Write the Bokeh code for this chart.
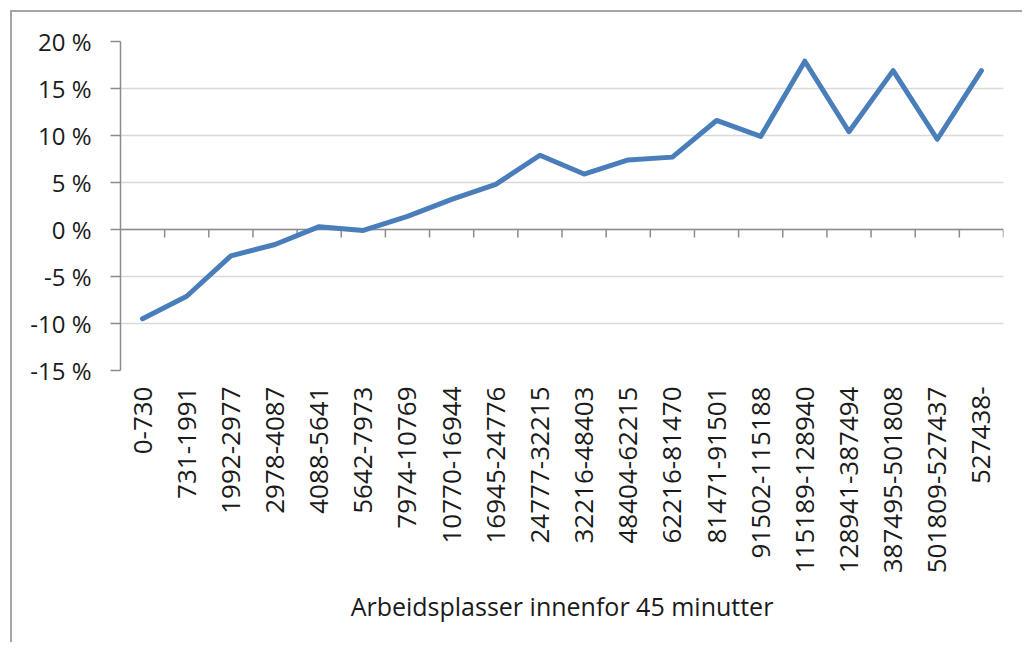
import math
from bokeh.plotting import figure
from bokeh.models import (Range1d, FixedTicker, PrintfTickFormatter, Span)
from bokeh.embed import file_html
from bokeh.resources import INLINE

categories = ["0-730", "731-1991", "1992-2977", "2978-4087", "4088-5641",
              "5642-7973", "7974-10769", "10770-16944", "16945-24776",
              "24777-32215", "32216-48403", "48404-62215", "62216-81470",
              "81471-91501", "91502-115188", "115189-128940", "128941-387494",
              "387495-501808", "501809-527437", "527438-"]
values = [-9.5, -7.1, -2.8, -1.6, 0.3, -0.1, 1.4, 3.2, 4.8, 7.9,
          5.9, 7.4, 7.7, 11.6, 9.9, 17.9, 10.4, 16.9, 9.6, 16.9]
y_ticks = [-15, -10, -5, 0, 5, 10, 15, 20]
x_title = "Arbeidsplasser innenfor 45 minutter"

FONT = "Open Sans"
TXT = "#1a1a1a"
AXC = "#8c8c8c"

n = len(categories)
centers = [i + 0.5 for i in range(n)]
bounds = [i + 1 for i in range(n)]

p = figure(x_range=Range1d(0, n), y_range=Range1d(-15, 20),
           frame_width=883, frame_height=329,
           min_border_left=108, min_border_top=29, min_border_right=19,
           min_border_bottom=272,
           output_backend="svg", toolbar_location=None,
           background_fill_color="white", border_fill_color="white")
p.outline_line_color = None
p.styles = {"margin-left": "10px", "margin-top": "10px",
            "border-left": "2px solid #a6a6a6", "border-top": "2px solid #a6a6a6"}

# label axis (categories at centers)
xa = p.xaxis[0]
xa.ticker = FixedTicker(ticks=centers)
xa.major_label_overrides = {c: lab for c, lab in zip(centers, categories)}
xa.axis_line_color = None
xa.major_tick_line_color = None
xa.minor_tick_line_color = None
xa.major_tick_out = 0
xa.major_tick_in = 0
xa.major_label_orientation = math.pi / 2
xa.major_label_text_font = FONT
xa.major_label_text_font_size = "26px"
xa.major_label_text_color = TXT
xa.major_label_standoff = 16
xa.axis_label = x_title
xa.axis_label_text_font = FONT
xa.axis_label_text_font_size = "25px"
xa.axis_label_text_font_style = "normal"
xa.axis_label_text_color = TXT
xa.axis_label_standoff = 13

ya = p.yaxis[0]
ya.ticker = FixedTicker(ticks=y_ticks)
ya.formatter = PrintfTickFormatter(format="%d %%")
ya.axis_line_color = AXC
ya.axis_line_width = 1.5
ya.major_tick_line_color = AXC
ya.major_tick_line_width = 1.5
ya.major_tick_out = 10
ya.major_tick_in = 0
ya.minor_tick_line_color = None
ya.major_label_text_font = FONT
ya.major_label_text_font_size = "24px"
ya.major_label_text_color = TXT
ya.major_label_standoff = 19

p.xgrid.grid_line_color = None
p.ygrid.ticker = FixedTicker(ticks=y_ticks)
p.ygrid.grid_line_color = "#d9d9d9"
p.ygrid.grid_line_width = 1.5

# category axis on the zero line, with ticks between categories
zero_line = Span(location=0, dimension="width", line_color=AXC,
                 line_width=1.5, level="underlay")
p.add_layout(zero_line)
p.ray(x=bounds, y=[0] * n, length=8, length_units="screen",
      angle=-math.pi / 2, line_color=AXC, line_width=1.5)

p.line(x=centers, y=values, line_width=5, line_color="#4A7EBB",
       line_join="round", line_cap="round")

open("out.html", "w").write(file_html(p, INLINE))
